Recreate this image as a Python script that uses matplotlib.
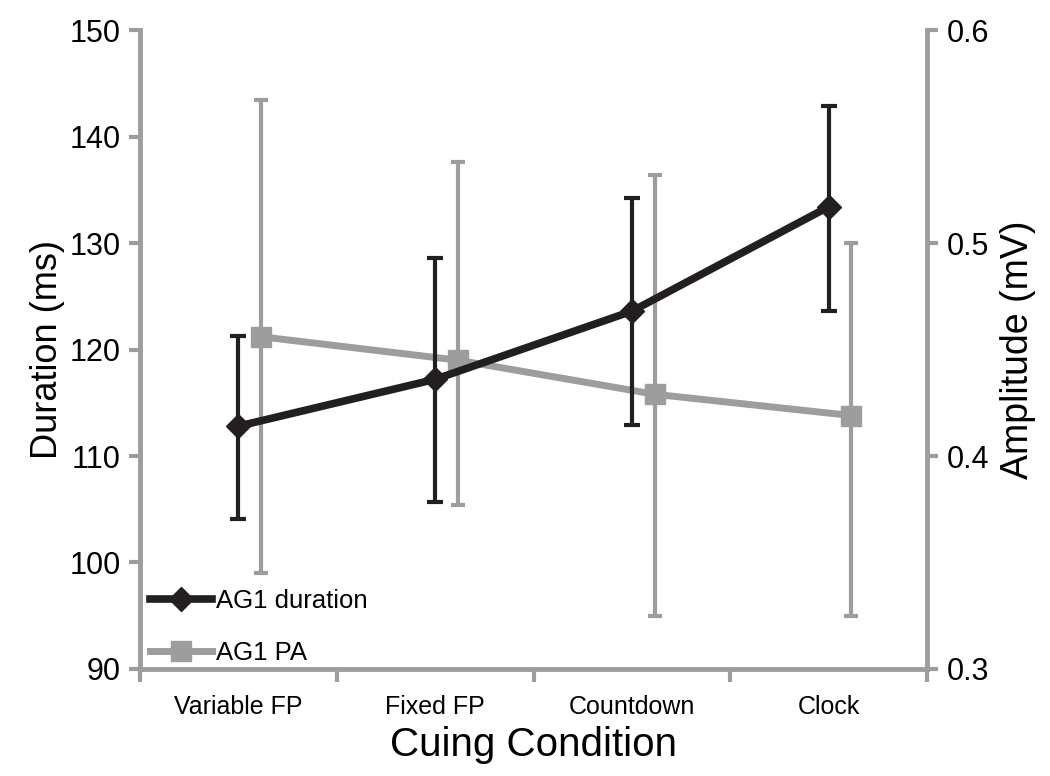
import matplotlib
matplotlib.use("Agg")
import matplotlib.pyplot as plt
import numpy as np
from matplotlib.lines import Line2D

plt.rcParams['font.family'] = ['Liberation Sans', 'DejaVu Sans']

categories = ["Variable FP", "Fixed FP", "Countdown", "Clock"]
duration = [112.8, 117.2, 123.6, 133.4]
duration_hi = [121.3, 128.6, 134.2, 142.9]
duration_lo = [104.1, 105.7, 112.9, 123.6]
amplitude = [0.456, 0.445, 0.429, 0.419]
amplitude_hi = [0.567, 0.538, 0.532, 0.500]
amplitude_lo = [0.345, 0.377, 0.325, 0.325]

black = "#231f20"
gray = "#9d9d9f"

fig = plt.figure(figsize=(10.5, 7.76), dpi=100)
ax = fig.add_axes([0.1333, 0.1379, 0.8829 - 0.1333, 0.9613 - 0.1379])
ax2 = ax.twinx()

x = np.arange(len(categories))
off = 0.115

d = np.array(duration)
a = np.array(amplitude)
derr = [d - np.array(duration_lo), np.array(duration_hi) - d]
aerr = [a - np.array(amplitude_lo), np.array(amplitude_hi) - a]

ax2.errorbar(x + off, a, yerr=aerr, color=gray, lw=5, marker='s', ms=14,
             ecolor=gray, elinewidth=3, capsize=5, capthick=3, zorder=2)
ax.errorbar(x, d, yerr=derr, color=black, lw=5.5, marker='D', ms=12,
            ecolor=black, elinewidth=3, capsize=6, capthick=3, zorder=3)

ax.set_zorder(ax2.get_zorder() + 1)
ax.patch.set_visible(False)

ax.set_xlim(-0.5, len(categories) - 0.5)
ax.set_ylim(90, 150)
ax2.set_ylim(0.3, 0.6)
ax.set_yticks(np.arange(90, 151, 10))
ax2.set_yticks([0.3, 0.4, 0.5, 0.6])
ax2.set_yticklabels(["0.3", "0.4", "0.5", "0.6"])

ax.set_xticks(x)
ax.set_xticklabels(categories, fontsize=18)
ax.tick_params(axis='x', length=0, pad=19)
ax.set_xticks(np.arange(-0.5, len(categories), 1), minor=True)
ax.tick_params(axis='x', which='minor', length=9, width=3, color=gray, direction='out')

for axis in (ax, ax2):
    for s in axis.spines.values():
        s.set_color(gray)
        s.set_linewidth(3.5)
    axis.spines['top'].set_visible(False)

ax.spines['right'].set_visible(False)
ax2.spines['left'].set_visible(False)
ax2.spines['bottom'].set_visible(False)

ax.tick_params(axis='y', length=8, width=3, color=gray, labelsize=22, pad=6)
ax2.tick_params(axis='y', length=8, width=3, color=gray, labelsize=22, pad=6)

ax.set_ylabel("Duration (ms)", fontsize=26, labelpad=3)
ax2.set_ylabel("Amplitude (mV)", fontsize=27, labelpad=8)
ax.set_xlabel("Cuing Condition", fontsize=29, labelpad=5)

handles = [Line2D([], [], color=black, lw=5.5, marker='D', ms=12),
           Line2D([], [], color=gray, lw=5, marker='s', ms=14)]
leg = ax.legend(handles, ["AG1 duration", "AG1 PA"], loc='lower left',
                frameon=False, fontsize=18.5, handlelength=2.4, handletextpad=0.15,
                labelspacing=1.1, borderaxespad=0.0, bbox_to_anchor=(0.0, -0.01))

fig.savefig("out.png", dpi=100)
